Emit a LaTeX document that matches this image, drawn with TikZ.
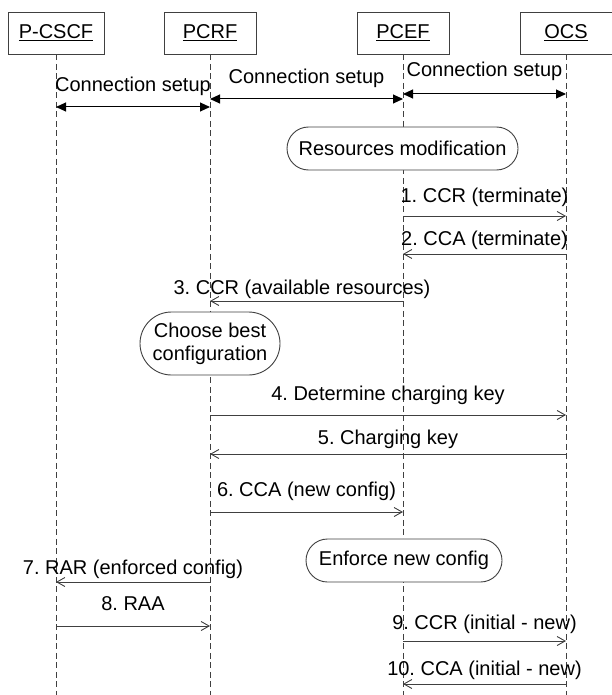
\documentclass[tikz,border=0pt]{standalone}
\usepackage{fontspec}
\setmainfont{Liberation Sans}
\usetikzlibrary{arrows.meta,shapes.misc}
\definecolor{linegray}{HTML}{404040}
\frenchspacing
\begin{document}
\begin{tikzpicture}[x=1pt,y=-1pt,
  font=\fontsize{20}{23}\selectfont\frenchspacing,
  head/.style={draw=linegray, line width=0.9pt, minimum height=42pt, inner sep=0pt, fill=white},
  life/.style={draw=linegray, line width=0.8pt, dash pattern=on 6pt off 3.5pt},
  msg/.style={draw=linegray, line width=0.9pt, -{Straight Barb[length=8pt,width=9pt]}},
  conn/.style={draw=black, line width=1pt, {Triangle[length=10pt,width=9pt]}-{Triangle[length=10pt,width=9pt]}},
  act/.style={draw=linegray, line width=0.9pt, rounded rectangle, fill=white, inner sep=0pt, align=center},
  lbl/.style={inner sep=0pt, anchor=base}
]
\useasboundingbox (0,0) rectangle (611,695);

% heads
\node[head, minimum width=96pt] (pcscf) at (56,33) {\underline{P-CSCF}};
\node[head, minimum width=92pt] (pcrf) at (210,33) {\underline{PCRF}};
\node[head, minimum width=92pt] (pcef) at (403,33) {\underline{PCEF}};
\node[head, minimum width=92pt] (ocs) at (566,33) {\underline{OCS}};

% lifelines
\coordinate (bottom) at (0,695);
\draw[life] (pcscf.south) -- (pcscf.south |- bottom);
\draw[life] (pcrf.south) -- (pcrf.south |- bottom);
\draw[life] (pcef.south) -- (pcef.south |- bottom);
\draw[life] (ocs.south) -- (ocs.south |- bottom);

% activity boxes
\node[act, minimum width=231pt, minimum height=43pt] (resmod) at (402.5,148.5) {Resources modification};
\node[act, minimum width=140pt, minimum height=63pt] (choose) at (210,343.5) {Choose best\\configuration};
\node[act, minimum width=196pt, minimum height=43pt] (enforce) at (404,560.5) {Enforce new config};

% connection setup
\draw[conn] (pcscf.south |- 0,107) -- (pcrf.south |- 0,107);
\node[lbl] (c1) at (133,92) {Connection setup};
\draw[conn] (pcrf.south |- 0,99) -- (pcef.south |- 0,99);
\node[lbl] (c2) at (306.5,84) {Connection setup};
\draw[conn] (pcef.south |- 0,94) -- (ocs.south |- 0,94);
\node[lbl] (c3) at (484.5,77) {Connection setup};

% messages
\draw[msg] (pcef.south |- 0,216) -- (ocs.south |- 0,216);
\node[lbl] (m1) at (484.5,202) {1. CCR (terminate)};
\draw[msg] (ocs.south |- 0,254) -- (pcef.south |- 0,254);
\node[lbl] (m2) at (484.5,245) {2. CCA (terminate)};
\draw[msg] (pcef.south |- 0,301) -- (pcrf.south |- 0,301);
\node[lbl] (m3) at (302,294) {3. CCR (available resources)};
\draw[msg] (pcrf.south |- 0,415) -- (ocs.south |- 0,415);
\node[lbl] (m4) at (388,400) {4. Determine charging key};
\draw[msg] (ocs.south |- 0,454) -- (pcrf.south |- 0,454);
\node[lbl] (m5) at (388,444) {5. Charging key};
\draw[msg] (pcrf.south |- 0,512) -- (pcef.south |- 0,512);
\node[lbl] (m6) at (306.5,496) {6. CCA (new config)};
\draw[msg] (pcrf.south |- 0,582) -- (pcscf.south |- 0,582);
\node[lbl] (m7) at (133,574) {7. RAR (enforced config)};
\draw[msg] (pcscf.south |- 0,626) -- (pcrf.south |- 0,626);
\node[lbl] (m8) at (133,610) {8. RAA};
\draw[msg] (pcef.south |- 0,641) -- (ocs.south |- 0,641);
\node[lbl] (m9) at (484.5,629) {9. CCR (initial - new)};
\draw[msg] (ocs.south |- 0,684) -- (pcef.south |- 0,684);
\node[lbl] (m10) at (484.5,675) {10. CCA (initial - new)};
\end{tikzpicture}
\end{document}
